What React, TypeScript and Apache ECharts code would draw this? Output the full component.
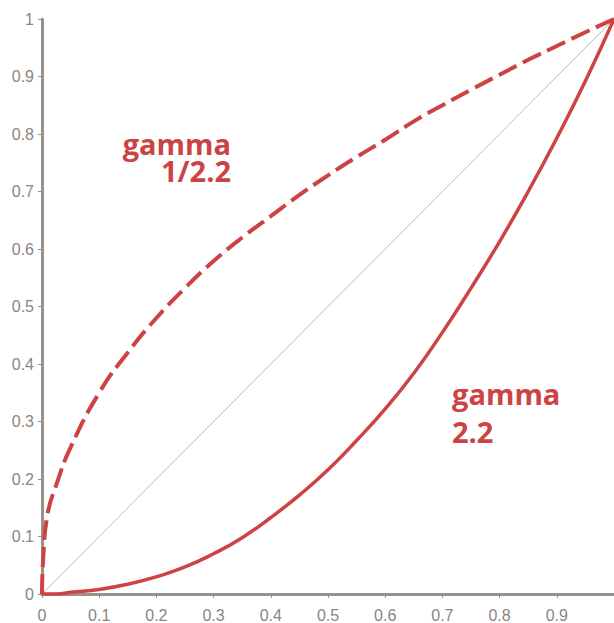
import React, { useEffect, useRef } from "react";
import * as echarts from "echarts";

const xValues = [0, 0.002, 0.01, 0.025, 0.05, 0.1, 0.15, 0.2, 0.25, 0.3, 0.35, 0.4, 0.45, 0.5, 0.55, 0.6, 0.65, 0.7, 0.75, 0.8, 0.85, 0.9, 0.95, 1];
const gammaInvValues = [0, 0.06, 0.14, 0.19, 0.255, 0.35, 0.42, 0.48, 0.532, 0.579, 0.62, 0.657, 0.694, 0.728, 0.76, 0.79, 0.822, 0.85, 0.877, 0.903, 0.929, 0.953, 0.977, 1];
const gammaValues = [0, 0, 0, 0, 0.003, 0.008, 0.017, 0.03, 0.047, 0.07, 0.098, 0.133, 0.172, 0.216, 0.267, 0.322, 0.384, 0.455, 0.532, 0.613, 0.7, 0.793, 0.892, 1];
const diagonalX = [0, 1];
const diagonalY = [0, 1];
const labelTexts = ["gamma\n1/2.2", "gamma\n2.2"];

const RED = "#cd4343";
const AXIS = "#9b918c";
const LABEL = "#8b847f";

export default function App() {
  const ref = useRef<HTMLDivElement>(null);
  useEffect(() => {
    if (!ref.current) return;
    const chart = echarts.init(ref.current, undefined, { renderer: "svg" });
    const zip = (xs: number[], ys: number[]) => xs.map((x, i) => [x, ys[i]]);
    const font = "bold 29px 'Open Sans'";
    const fmt = (v: number) => String(Math.round(v * 10) / 10);
    chart.setOption({
      animation: false,
      grid: { left: 42, right: 0, top: 19, bottom: 29, containLabel: false },
      xAxis: {
        type: "value",
        min: 0,
        max: 1,
        interval: 0.1,
        splitLine: { show: false },
        axisLine: { show: true, lineStyle: { color: AXIS, width: 3 } },
        axisTick: { show: true, length: 4, lineStyle: { color: AXIS, width: 1 } },
        axisLabel: {
          color: LABEL,
          fontFamily: "Liberation Sans",
          fontSize: 16,
          margin: 13,
          showMaxLabel: false,
          formatter: fmt,
        },
      },
      yAxis: {
        type: "value",
        min: 0,
        max: 1,
        interval: 0.1,
        splitLine: { show: false },
        axisLine: { show: true, lineStyle: { color: AXIS, width: 3 } },
        axisTick: { show: true, length: 4, lineStyle: { color: AXIS, width: 1 } },
        axisLabel: {
          color: LABEL,
          fontFamily: "Liberation Sans",
          fontSize: 16,
          margin: 8,
          formatter: fmt,
        },
      },
      series: [
        {
          type: "line",
          data: zip(diagonalX, diagonalY),
          showSymbol: false,
          silent: true,
          lineStyle: { color: "#bdb8b5", width: 1 },
          z: 1,
        },
        {
          type: "line",
          data: zip(xValues, gammaInvValues),
          showSymbol: false,
          smooth: 0.5,
          lineStyle: { color: RED, width: 4, type: [20, 7] },
          z: 2,
        },
        {
          type: "line",
          data: zip(xValues, gammaValues),
          showSymbol: false,
          smooth: 0.5,
          lineStyle: { color: RED, width: 3.5 },
          z: 2,
        },
      ],
      graphic: [
        { type: "text", x: 231, y: 129.5, style: { text: labelTexts[0], font, fill: RED, align: "right", verticalAlign: "top", lineHeight: 27 } },
        { type: "text", x: 452, y: 374, style: { text: labelTexts[1], font, fill: RED, align: "left", verticalAlign: "top", lineHeight: 38 } },
      ],
    });
    return () => chart.dispose();
  }, []);
  return (
    <div
      ref={ref}
      style={{ position: "absolute", left: 0, top: 0, width: 614, height: 623, background: "#fff" }}
    />
  );
}
